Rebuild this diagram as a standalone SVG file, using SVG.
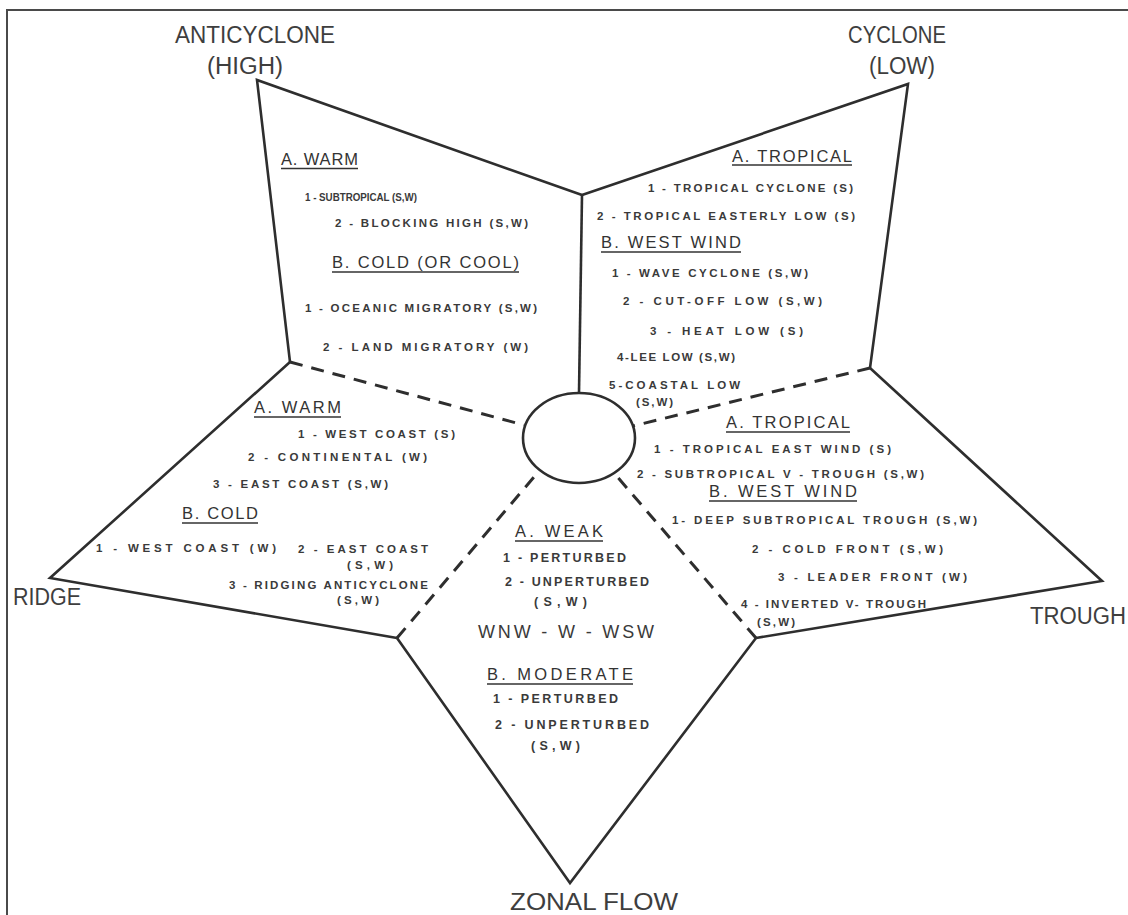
<svg xmlns="http://www.w3.org/2000/svg" width="1128" height="915" viewBox="0 0 1128 915">
  <style>
    text { font-family: "Liberation Sans", Arial, sans-serif; }
    .edge { fill: none; stroke: #2e2e2e; stroke-width: 2.6; stroke-linejoin: miter; }
    .dash { fill: none; stroke: #2e2e2e; stroke-width: 3; stroke-dasharray: 13 9; }
    .frame { fill: none; stroke: #4a4a4a; stroke-width: 2; }
    .lbl { font-size: 23px; fill: #3e3e3e; }
    .hd { font-size: 16.5px; fill: #333; }
    .it { font-size: 11.5px; font-weight: bold; fill: #3a3a3a; }
    .wz { font-size: 12.5px; font-weight: bold; fill: #3a3a3a; }
    .big { font-size: 18px; fill: #3a3a3a; }
    .ul { stroke: #333; stroke-width: 1.6; }
  </style>

  <rect width="1128" height="915" fill="#fff"/>
  <!-- page frame (top and left rules) -->
  <path class="frame" d="M7,915 V10 H1128"/>

  <!-- outer category labels -->
  <g id="labels">
    <text class="lbl" x="175" y="43" textLength="160" lengthAdjust="spacingAndGlyphs">ANTICYCLONE</text>
    <text class="lbl" x="207" y="74" textLength="76" lengthAdjust="spacingAndGlyphs">(HIGH)</text>
    <text class="lbl" x="848" y="43" textLength="98" lengthAdjust="spacingAndGlyphs">CYCLONE</text>
    <text class="lbl" x="869" y="74" textLength="66" lengthAdjust="spacingAndGlyphs">(LOW)</text>
    <text class="lbl" x="13" y="605" textLength="68" lengthAdjust="spacingAndGlyphs">RIDGE</text>
    <text class="lbl" x="1030" y="624" textLength="96" lengthAdjust="spacingAndGlyphs">TROUGH</text>
    <text class="lbl" x="510" y="910" textLength="168" lengthAdjust="spacingAndGlyphs">ZONAL FLOW</text>
  </g>

  <!-- anticyclone wedge -->
  <g id="anticyclone">
    <polyline class="edge" points="290,362 257,80 582,195"/>
    <text class="hd" x="281" y="165" textLength="77">A. WARM</text>
    <line class="ul" x1="281" y1="168.5" x2="358" y2="168.5"/>
    <text class="it" x="305" y="201" textLength="112" lengthAdjust="spacingAndGlyphs">1 - SUBTROPICAL (S,W)</text>
    <text class="it" x="335" y="227" textLength="193">2 - BLOCKING HIGH (S,W)</text>
    <text class="hd" x="332" y="268" textLength="187">B. COLD (OR COOL)</text>
    <line class="ul" x1="332" y1="272" x2="519" y2="272"/>
    <text class="it" x="305" y="312" textLength="232">1 - OCEANIC MIGRATORY (S,W)</text>
    <text class="it" x="323" y="351" textLength="205">2 - LAND MIGRATORY (W)</text>
  </g>

  <!-- cyclone wedge -->
  <g id="cyclone">
    <polyline class="edge" points="582,195 908,84 870,368"/>
    <text class="hd" x="732" y="162" textLength="120">A. TROPICAL</text>
    <line class="ul" x1="732" y1="165" x2="852" y2="165"/>
    <text class="it" x="648" y="192" textLength="205">1 - TROPICAL CYCLONE (S)</text>
    <text class="it" x="597" y="220" textLength="258">2 - TROPICAL EASTERLY LOW (S)</text>
    <text class="hd" x="601" y="248" textLength="140">B. WEST WIND</text>
    <line class="ul" x1="601" y1="252" x2="741" y2="252"/>
    <text class="it" x="612" y="277" textLength="196">1 - WAVE CYCLONE (S,W)</text>
    <text class="it" x="623" y="305" textLength="199">2 - CUT-OFF LOW (S,W)</text>
    <text class="it" x="650" y="335" textLength="153">3 - HEAT LOW (S)</text>
    <text class="it" x="617" y="361" textLength="118">4-LEE LOW (S,W)</text>
    <text class="it" x="609" y="389" textLength="131">5-COASTAL LOW</text>
    <text class="it" x="636" y="406" textLength="37">(S,W)</text>
  </g>

  <!-- trough wedge -->
  <g id="trough">
    <polyline class="edge" points="870,368 1102,581 756,638"/>
    <text class="hd" x="726" y="428" textLength="124">A. TROPICAL</text>
    <line class="ul" x1="726" y1="432" x2="850" y2="432"/>
    <text class="it" x="654" y="453" textLength="237">1 - TROPICAL EAST WIND (S)</text>
    <text class="it" x="637" y="478" textLength="287">2 - SUBTROPICAL V - TROUGH (S,W)</text>
    <text class="hd" x="709" y="497" textLength="148">B. WEST WIND</text>
    <line class="ul" x1="709" y1="501" x2="857" y2="501"/>
    <text class="it" x="672" y="524" textLength="305">1- DEEP SUBTROPICAL TROUGH (S,W)</text>
    <text class="it" x="752" y="553" textLength="191">2 - COLD FRONT (S,W)</text>
    <text class="it" x="778" y="581" textLength="189">3 - LEADER FRONT (W)</text>
    <text class="it" x="741" y="608" textLength="185">4 - INVERTED V- TROUGH</text>
    <text class="it" x="757" y="626" textLength="38">(S,W)</text>
  </g>

  <!-- ridge wedge -->
  <g id="ridge">
    <polyline class="edge" points="290,362 50,578 397,638"/>
    <text class="hd" x="254" y="413" textLength="87">A. WARM</text>
    <line class="ul" x1="254" y1="417" x2="341" y2="417"/>
    <text class="it" x="298" y="438" textLength="157">1 - WEST COAST (S)</text>
    <text class="it" x="248" y="461" textLength="179">2 - CONTINENTAL (W)</text>
    <text class="it" x="213" y="488" textLength="175">3 - EAST COAST (S,W)</text>
    <text class="hd" x="182" y="519" textLength="76">B. COLD</text>
    <line class="ul" x1="182" y1="523" x2="258" y2="523"/>
    <text class="it" x="96" y="552" textLength="180">1 -  WEST COAST (W)</text>
    <text class="it" x="298" y="553" textLength="130">2 - EAST COAST</text>
    <text class="it" x="347" y="569" textLength="46">(S,W)</text>
    <text class="it" x="229" y="589" textLength="199">3 - RIDGING ANTICYCLONE</text>
    <text class="it" x="337" y="604" textLength="42">(S,W)</text>
  </g>

  <!-- zonal flow wedge -->
  <g id="zonal-flow">
    <polyline class="edge" points="397,638 570,883 756,638"/>
    <text class="hd" x="515" y="537" textLength="88">A. WEAK</text>
    <line class="ul" x1="515" y1="541" x2="603" y2="541"/>
    <text class="wz" x="503" y="562" textLength="123">1 - PERTURBED</text>
    <text class="wz" x="505" y="586" textLength="144">2 - UNPERTURBED</text>
    <text class="wz" x="534" y="606" textLength="53">(S,W)</text>
    <text class="big" x="478" y="638" textLength="176">WNW - W - WSW</text>
    <text class="hd" x="487" y="680" textLength="146">B. MODERATE</text>
    <line class="ul" x1="487" y1="684" x2="633" y2="684"/>
    <text class="wz" x="493" y="703" textLength="125">1 - PERTURBED</text>
    <text class="wz" x="495" y="729" textLength="154">2 - UNPERTURBED</text>
    <text class="wz" x="531" y="750" textLength="49">(S,W)</text>
  </g>

  <!-- central hub -->
  <g id="hub">
    <ellipse cx="579" cy="438" rx="56" ry="45" fill="#fff" stroke="#2e2e2e" stroke-width="2.6"/>
  </g>

  <!-- spokes joining the wedges to the hub -->
  <g id="connectors">
    <line class="edge" x1="582" y1="195" x2="579" y2="393"/>
    <line class="dash" x1="290" y1="362" x2="524" y2="425"/>
    <line class="dash" x1="870" y1="368" x2="633" y2="426"/>
    <line class="dash" x1="397" y1="638" x2="540" y2="470"/>
    <line class="dash" x1="756" y1="638" x2="614" y2="473"/>
  </g>
</svg>
